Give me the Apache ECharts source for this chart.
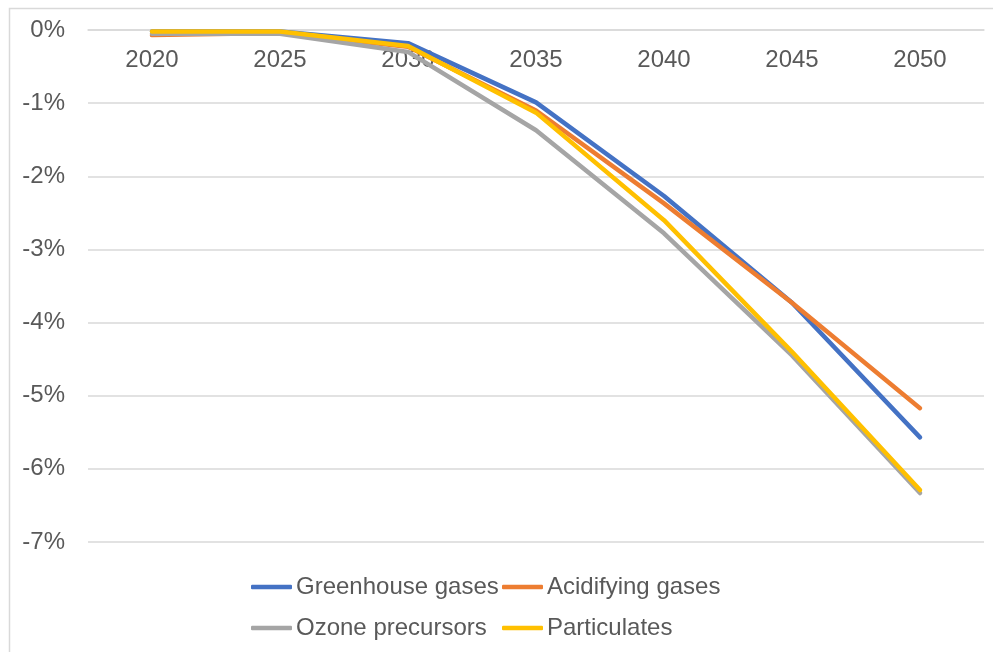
<!DOCTYPE html>
<html>
<head>
<meta charset="utf-8">
<script src="https://cdn.jsdelivr.net/npm/echarts@6/dist/echarts.min.js"></script>
<style>
  html, body { margin: 0; padding: 0; background: #ffffff; }
  #chart { width: 993px; height: 652px; }
</style>
</head>
<body>
<div id="chart"></div>
<script>
// Years on the category axis
const years = ['2020', '2025', '2030', '2035', '2040', '2045', '2050'];

// Change in emissions, percent
const greenhouseGases = [-0.02, -0.02, -0.18, -0.99, -2.27, -3.73, -5.57];
const acidifyingGases = [-0.07, -0.04, -0.23, -1.10, -2.37, -3.73, -5.17];
const ozonePrecursors = [-0.05, -0.05, -0.30, -1.37, -2.78, -4.45, -6.33];
const particulates   = [-0.02, -0.02, -0.22, -1.13, -2.60, -4.40, -6.29];

const seriesNames = ['Greenhouse gases', 'Acidifying gases', 'Ozone precursors', 'Particulates'];
const seriesData = [greenhouseGases, acidifyingGases, ozonePrecursors, particulates];
const seriesColors = ['#4472C4', '#ED7D31', '#A5A5A5', '#FFC000'];

const textColor = '#595959';
const fontFamily = 'Arial, "Liberation Sans", sans-serif';
const fontSize = 24;

const chart = echarts.init(document.getElementById('chart'), null, { renderer: 'canvas' });

// Legend laid out as a 2x2 grid with aligned columns
const legendSlots = [
  { left: 251, top: 575 },
  { left: 502, top: 575 },
  { left: 251, top: 616 },
  { left: 502, top: 616 }
];

const option = {
  backgroundColor: '#ffffff',
  animation: false,
  graphic: [{
    type: 'rect',
    left: 7, top: 6,
    shape: { width: 1000, height: 700 },
    style: { fill: 'none', stroke: '#d9d9d9', lineWidth: 1.5 },
    silent: true
  }],
  legend: seriesNames.map((name, i) => ({
    data: [name],
    left: legendSlots[i].left,
    top: legendSlots[i].top,
    icon: 'roundRect',
    itemWidth: 41,
    itemHeight: 4.5,
    itemGap: 0,
    padding: 0,
    textStyle: { color: textColor, fontSize: fontSize, fontFamily: fontFamily, padding: [0, 0, 0, -1] }
  })),
  grid: { left: 88, right: 9, top: 30, height: 512, containLabel: false },
  xAxis: {
    type: 'category',
    data: years,
    position: 'top',
    boundaryGap: true,
    axisLine: { lineStyle: { color: '#d9d9d9', width: 1.5 } },
    axisTick: { show: false },
    axisLabel: { inside: true, color: textColor, fontSize: fontSize, fontFamily: fontFamily, margin: 18 },
    splitLine: { show: false }
  },
  yAxis: {
    type: 'value',
    min: -7,
    max: 0,
    interval: 1,
    axisLine: { show: false },
    axisTick: { show: false },
    axisLabel: {
      color: textColor, fontSize: fontSize, fontFamily: fontFamily, margin: 23,
      formatter: v => Math.round(v) + '%'
    },
    splitLine: { lineStyle: { color: '#d9d9d9', width: 1.5 } }
  },
  series: seriesNames.map((name, i) => ({
    name: name,
    type: 'line',
    data: seriesData[i],
    symbol: 'none',
    zlevel: 1,
    color: seriesColors[i],
    lineStyle: { width: 4.5, color: seriesColors[i], cap: 'round', join: 'round' }
  }))
};

chart.setOption(option);
</script>
</body>
</html>
